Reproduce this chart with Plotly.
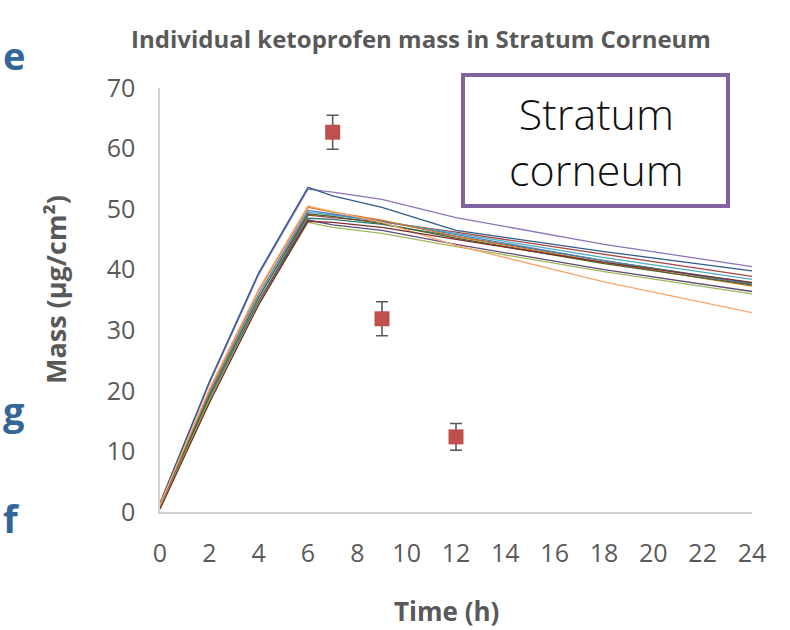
import plotly.graph_objects as go

# ---------------- data ----------------
time_h = [0, 2, 4, 6, 7, 9, 12, 18, 24]

series_values = {
    "s1":  [1.4, 21.2, 39.2, 53.3, 52.8, 51.6, 48.6, 44.2, 40.5],
    "s2":  [1.5, 21.5, 39.5, 53.6, 52.2, 50.3, 46.5, 43.0, 39.8],
    "s3":  [0.6, 18.3, 34.6, 49.0, 48.6, 47.9, 46.2, 42.5, 38.9],
    "s4":  [0.9, 19.0, 35.4, 49.5, 49.0, 48.0, 46.0, 42.0, 38.4],
    "s5":  [0.8, 18.6, 34.8, 48.5, 48.3, 47.5, 45.5, 41.5, 37.8],
    "s6":  [1.1, 19.6, 36.0, 49.8, 49.2, 48.0, 45.8, 41.5, 37.6],
    "s7":  [1.2, 20.0, 36.6, 50.3, 49.5, 48.2, 45.5, 41.2, 37.3],
    "s8":  [0.9, 19.2, 35.4, 49.2, 48.8, 47.6, 45.2, 41.0, 37.5],
    "s9":  [0.7, 18.5, 34.6, 48.2, 47.4, 46.5, 44.2, 40.0, 36.4],
    "s10": [0.7, 18.4, 34.4, 47.8, 47.0, 46.0, 43.8, 39.7, 36.0],
    "s11": [1.2, 20.3, 36.8, 50.5, 49.6, 47.8, 44.0, 38.0, 32.9],
    "s12": [0.5, 18.0, 34.2, 48.0, 47.8, 47.0, 45.0, 41.2, 37.9],
}
series_colors = {
    "s1": "#8E74B6", "s2": "#2F5A8A", "s3": "#A9443F", "s4": "#4BACC6",
    "s5": "#2E7A78", "s6": "#4F81BD", "s7": "#D9751E", "s8": "#4F6228",
    "s9": "#604A7B", "s10": "#9BBB59", "s11": "#F9A56A", "s12": "#7A2E2C",
}

exp_time = [7, 9, 12]
exp_mass = [62.7, 31.9, 12.4]
exp_err = [2.8, 2.8, 2.2]

x_ticks = list(range(0, 25, 2))
y_ticks = list(range(0, 71, 10))

title_text = "Individual ketoprofen mass in Stratum Corneum"
x_title = "Time (h)"
y_title = "Mass (µg/cm²)"
box_text = "Stratum<br>corneum"
edge_letters = ["e", "g", "f"]

# ---------------- figure ----------------
fig = go.Figure()
for name, vals in series_values.items():
    fig.add_trace(go.Scatter(
        x=time_h, y=vals, mode="lines", name=name,
        line=dict(color=series_colors[name], width=1.3),
        showlegend=False, hoverinfo="skip"))

fig.add_trace(go.Scatter(
    x=exp_time, y=exp_mass, mode="markers", showlegend=False,
    marker=dict(symbol="square", size=15, color="#C0504D"),
    error_y=dict(type="data", array=exp_err, visible=True,
                 color="#595959", thickness=1.6, width=6)))

grey = "#595959"
fig.update_layout(
    width=790, height=630,
    margin=dict(l=160, r=38, t=88, b=118),
    paper_bgcolor="white", plot_bgcolor="white",
    font=dict(family="Open Sans", color=grey),
    title=dict(text=title_text, x=(421 - 160) / 592, xref="paper",
               xanchor="center", y=1 - 40 / 630, yref="container",
               yanchor="middle",
               font=dict(family="Open Sans", size=24, color=grey, weight="bold")),
    xaxis=dict(range=[0, 24], tickvals=x_ticks, showgrid=False, zeroline=False,
               showline=True, linecolor="#D0D0D0", linewidth=1.5,
               ticks="", ticklabelstandoff=18,
               tickfont=dict(size=25, color=grey, family="Open Sans")),
    yaxis=dict(range=[0, 70], tickvals=y_ticks, showgrid=False, zeroline=False,
               showline=True, linecolor="#D0D0D0", linewidth=1.5,
               ticks="", ticklabelstandoff=18,
               tickfont=dict(size=25, color=grey, family="Open Sans")),
)

fig.add_annotation(text=x_title, xref="paper", yref="paper",
                   x=(446 - 160) / 592, y=(512 - 611) / 424,
                   xanchor="center", yanchor="middle", showarrow=False,
                   font=dict(size=26, color=grey, family="Open Sans", weight="bold"))
fig.add_annotation(text=y_title, xref="paper", yref="paper",
                   x=(55 - 160) / 592, y=(512 - 290) / 424, textangle=-90,
                   xanchor="center", yanchor="middle", showarrow=False,
                   font=dict(size=27, color=grey, family="Open Sans", weight="bold"))

# box label
fig.add_shape(type="rect", xref="paper", yref="paper",
              x0=(463 - 160) / 592, x1=(728 - 160) / 592,
              y0=(512 - 206) / 424, y1=(512 - 75) / 424,
              line=dict(color="#8064A2", width=4), fillcolor="white")
fig.add_annotation(text=box_text, xref="paper", yref="paper",
                   x=(596 - 160) / 592, y=(512 - 141) / 424,
                   xanchor="center", yanchor="middle", showarrow=False,
                   font=dict(size=43, color="#111111", family="Open Sans",
                             weight=300))

# letters at left page edge
for letter, ypix in zip(edge_letters, [55, 410, 518]):
    fig.add_annotation(text=letter, xref="paper", yref="paper",
                       x=(1 - 160) / 592, y=(512 - ypix) / 424,
                       xanchor="left", yanchor="middle", showarrow=False,
                       font=dict(size=38, color="#336699", family="Open Sans",
                                 weight="bold"))

fig.write_html("out.html")
